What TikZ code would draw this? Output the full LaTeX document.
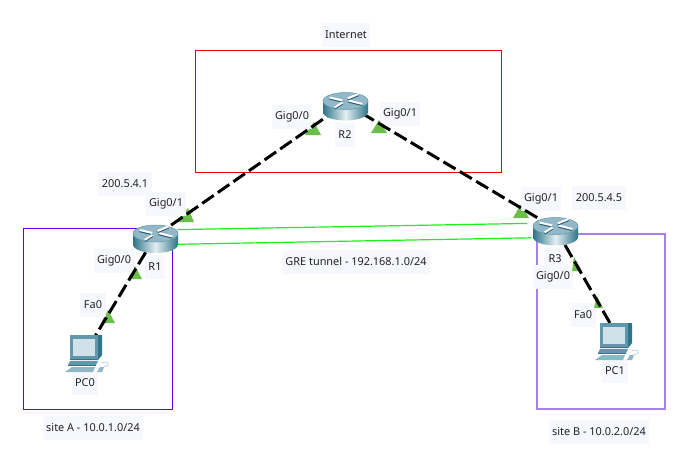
\documentclass[tikz,border=0pt]{standalone}
\usepackage{fontspec}
\setmainfont{Noto Sans}
\definecolor{labelbg}{HTML}{F7F8FD}
\definecolor{labeltxt}{HTML}{222222}
\definecolor{porttri}{HTML}{6ABF4B}
\definecolor{tealdark}{HTML}{2F7488}
\definecolor{tealmid}{HTML}{5E98AA}
\definecolor{teallight}{HTML}{E4EFF2}
\definecolor{topface}{HTML}{93B7C6}
\definecolor{greline}{HTML}{1AF01A}
\definecolor{sitea}{HTML}{6200EA}
\definecolor{siteb}{HTML}{A680F2}
\tikzset{
  x=1pt,y=-1pt,
  lbl/.style={fill=labelbg,text=labeltxt,font=\fontsize{10.9}{12}\selectfont,inner xsep=3.5pt,inner ysep=0pt,minimum height=24pt},
  hub/.style={circle,inner sep=0pt,minimum size=1pt},
  wan/.style={line width=3pt,black,dash pattern=on 14pt off 5pt},
  gre/.style={line width=1.2pt,color=greline},
  tri/.style={fill=porttri,draw=none},
  routericon/.pic={
    \shade[left color=tealdark,right color=tealdark,middle color=teallight]
      (-22.5,-5.5) -- (-22.5,5.5) .. controls (-22.5,10.5) and (-12,14) .. (0,14)
      .. controls (12,14) and (22.5,10.5) .. (22.5,5.5) -- (22.5,-5.5) -- cycle;
    \fill[topface] (0,-5.5) ellipse[x radius=22.5,y radius=8.5];
    \draw[line width=.5pt,tealmid] (0,-5.5) ellipse[x radius=22.5,y radius=8.5];
    \foreach \a/\b/\c/\d in {-3/-6/-16/-9, 3/-6/17/-2.5, 2/-8/13/-12.5, -3/-4/-11/1}{
      \draw[line width=2.4pt,tealdark!80!black] (\a,\b+.9) -- (\c,\d+.9);
      \draw[line width=2pt,white] (\a,\b) -- (\c,\d);
    }
  },
  pcicon/.pic={
    \fill[tealdark] (-15,-17) -- (13,-17) -- (17,-17) -- (17,3) -- (13,8) -- (-15,8) -- cycle;
    \fill[tealmid] (-15,-17) -- (13,-17) -- (13,7) -- (-15,7) -- cycle;
    \fill[teallight!85!tealmid] (-12,-13) -- (10,-13) -- (10,4) -- (-12,4) -- cycle;
    \fill[tealmid] (-15,9) -- (13,9) -- (11,13) -- (-17,13) -- cycle;
    \fill[tealdark] (-17,13) -- (11,13) -- (11,14) -- (-17,14) -- cycle;
    \fill[tealmid!70!white] (-13,15) -- (10,15) -- (8,20) -- (-20,20) -- cycle;
    \fill[tealmid!70!white] (15,15) -- (19,15) -- (17,20) -- (12,20) -- cycle;
    \draw[line width=.5pt,tealmid!60!white] (19,15) .. controls (24,14) and (25,10) .. (20,10) -- (16,11);
  }
}
\begin{document}
\begin{tikzpicture}
\useasboundingbox (0,0) rectangle (693,466);
\fill[white] (0,0) rectangle (693,466);
% areas
\node[draw=red!90!black,line width=1pt,minimum width=306pt,minimum height=122pt,inner sep=0pt] (netbox) at (348,111) {};
\node[draw=sitea,line width=1pt,minimum width=149pt,minimum height=181pt,inner sep=0pt] (siteAbox) at (98,318.5) {};
\node[draw=siteb,line width=1.8pt,minimum width=128pt,minimum height=175pt,inner sep=0pt] (siteBbox) at (601,321.5) {};
% link anchors
\node[hub] (R1) at (155.5,236) {};
\node[hub] (R2) at (345.5,103.5) {};
\node[hub] (R3) at (555.5,228.5) {};
\node[hub] (PC0) at (85,353) {};
\node[hub] (PC1) at (618,337) {};
\coordinate (greAl) at (177,229.6);
\coordinate (greAr) at (527,223.4);
\coordinate (greBl) at (177,244.3);
\coordinate (greBr) at (531,237.8);
% port triangles
\fill[tri] (188,208) -- (178,222) -- (194,222) -- cycle;
\fill[tri] (314,122) -- (305,135) -- (321,135) -- cycle;
\fill[tri] (379,120) -- (371,133) -- (387,133) -- cycle;
\fill[tri] (521,204) -- (513,218) -- (529,218) -- cycle;
\fill[tri] (135,266) -- (128,279) -- (142,279) -- cycle;
\fill[tri] (108,310) -- (101,323) -- (115,323) -- cycle;
% labels
\node[lbl] (tInternet) at (346,34.5) {Internet};
\node[lbl] (tipa) at (125,183.5) {200.5.4.1};
\node[lbl] (tg1a) at (166,203.5) {Gig0/1};
\node[lbl] (tg0b) at (292,116.5) {Gig0/0};
\node[lbl] (tR2) at (345,134.5) {R2};
\node[lbl] (tg1b) at (400,113.5) {Gig0/1};
\node[lbl] (tg0a) at (114,260.5) {Gig0/0};
\node[lbl] (tR1) at (155,267) {R1};
\node[lbl] (tfa0a) at (93,304.5) {Fa0};
\node[lbl] (tPC0) at (85,382.5) {PC0};
\node[lbl] (tg1c) at (541,198.5) {Gig0/1};
\node[lbl] (tipb) at (599,197.5) {200.5.4.5};
\node[lbl] (tR3) at (555,258.5) {R3};
\node[lbl] (tg0c) at (553,276.5) {Gig0/0};
\node[lbl] (tfa0b) at (583,314.5) {Fa0};
\node[lbl] (tPC1) at (615,370.5) {PC1};
\node[lbl] (tgre) at (356,261.5) {GRE tunnel - 192.168.1.0/24};
\node[lbl] (tsiteA) at (93,427.5) {site A - 10.0.1.0/24};
\node[lbl] (tsiteB) at (599,431.5) {site B - 10.0.2.0/24};
% triangles that sit above the labels
\fill[tri] (574,257) -- (572,271) -- (582,271) -- cycle;
\fill[tri] (597,296) -- (594,308) -- (603,308) -- cycle;
% connectors
\draw[wan] (R1.center) -- (R2.center);
\draw[wan] (R2.center) -- (R3.center);
\draw[wan] (R1.center) -- (PC0.center);
\draw[wan] (R3.center) -- (PC1.center);
\draw[gre] (greAl) -- (greAr);
\draw[gre] (greBl) -- (greBr);
% icons
\pic at (155.5,239) {routericon};
\pic at (345.5,106.5) {routericon};
\pic at (555.5,231.5) {routericon};
\pic at (85,352) {pcicon};
\pic at (615,340) {pcicon};
\end{tikzpicture}
\end{document}
